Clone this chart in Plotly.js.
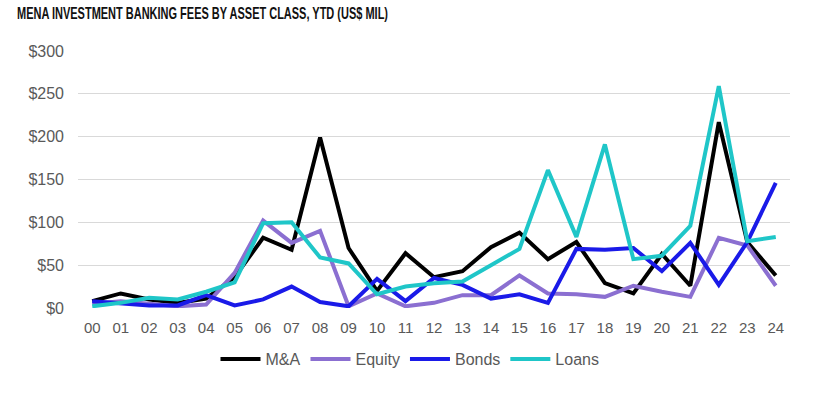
<!DOCTYPE html>
<html><head><meta charset="utf-8">
<script src="https://cdn.plot.ly/plotly-3.0.1.min.js"></script>
<style>html,body{margin:0;padding:0;background:#fff}#chart{width:839px;height:393px}</style>
</head><body><div id="chart"></div>
<script>
const years = ["00","01","02","03","04","05","06","07","08","09","10","11","12","13","14","15","16","17","18","19","20","21","22","23","24"];
const mna    = [8,17,10,6,11,36,82,68,199,70,20,64,36,43,71,88,57,77,29,17,63,26,217,77,38];
const equity = [5,8,5,2,4,41,102,76,90,2,17,2,6,15,15,38,17,16,13,26,19,13,82,73,26];
const bonds  = [8,6,3,3,15,3,10,25,7,2,34,8,35,27,11,16,6,69,68,70,43,76,27,77,146];
const loans  = [2,6,12,10,19,30,99,100,59,52,16,25,29,31,50,69,161,83,191,57,61,96,259,78,83];
const yTicks = [0,50,100,150,200,250,300];
const yTickText = yTicks.map(v => "$" + v);

const names = ["M&A","Equity","Bonds","Loans"];
const colors = ["#000000","#8b6fd1","#1a1ae8","#1fc6c8"];
const series = [mna, equity, bonds, loans];

const traces = series.map((s,i) => ({
  type: "scatter", mode: "lines", x: years, y: s, name: names[i],
  line: {color: colors[i], width: 4}
}));

const layout = {
  width: 839, height: 393,
  margin: {l: 78, r: 49, t: 51, b: 85},
  paper_bgcolor: "#fff", plot_bgcolor: "#fff",
  title: {text: "<b>MENA INVESTMENT BANKING FEES BY ASSET CLASS, YTD (US$ MIL)</b>",
          font: {family: "Liberation Sans, Arial, sans-serif", size: 17, color: "#111"},
          x: 17/839, xanchor: "left", xref: "container", y: 1 - 13.5/393, yanchor: "middle", yref: "container"},
  font: {family: "Liberation Sans, Arial, sans-serif", color: "#595959", size: 16},
  xaxis: {type: "category", range: [-0.5, 24.5], showgrid: false, zeroline: false, showline: false,
          ticks: "", tickfont: {size: 15, color: "#595959"}, ticklabelstandoff: 9,
          fixedrange: true, automargin: false},
  yaxis: {range: [0, 300], tickvals: yTicks, ticktext: yTickText, showgrid: true, gridcolor: "#d9d9d9",
          gridwidth: 1, zeroline: false, showline: false, ticks: "", ticklen: 0, ticklabelstandoff: 13,
          tickfont: {size: 16, color: "#595959"}, fixedrange: true, automargin: false},
  showlegend: true,
  legend: {orientation: "h", x: (410-78)/712, xanchor: "center", y: -51/257, yanchor: "middle",
           font: {size: 16, color: "#595959"}, traceorder: "normal", itemwidth: 40},
};

Plotly.newPlot("chart", traces, layout, {displayModeBar: false, staticPlot: true}).then(() => {
  const t = document.querySelector(".gtitle");
  if (t) { t.setAttribute("textLength", "371"); t.setAttribute("lengthAdjust", "spacingAndGlyphs"); }
});
</script></body></html>
